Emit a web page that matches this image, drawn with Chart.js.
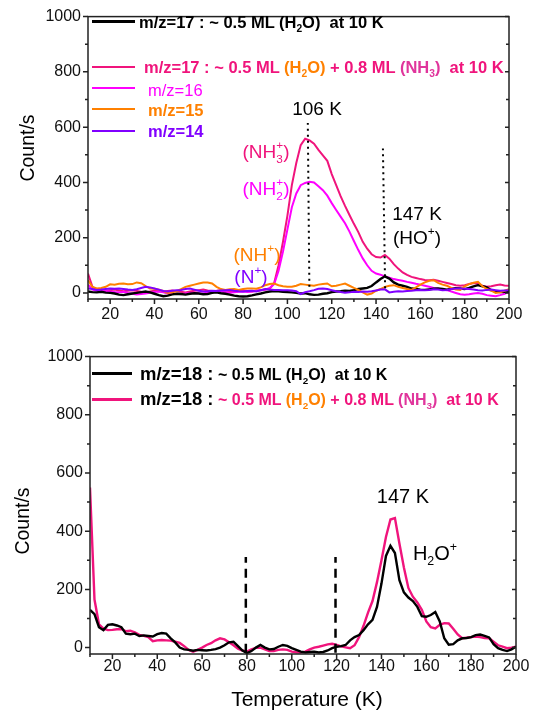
<!DOCTYPE html>
<html>
<head>
<meta charset="utf-8">
<script src="https://cdn.jsdelivr.net/npm/chart.js@4.4.0/dist/chart.umd.min.js"></script>
<style>
body { margin: 0; background: #fff; width: 537px; height: 713px; position: relative; overflow: hidden;
       font-family: "Liberation Sans", Arial, sans-serif; }
canvas { position: absolute; left: 0; }
.t { position: absolute; white-space: nowrap; line-height: 1; transform: translateY(-50%); }
.c { position: absolute; white-space: nowrap; line-height: 1; transform: translate(-50%, -50%); }
.b { font-weight: bold; }
.ln { position: absolute; }
.sb { font-size: 62%; position: relative; top: 0.4em; line-height: 0; }
.sp { font-size: 62%; position: relative; top: -0.75em; line-height: 0; }
.stk { margin-left: -0.56em; }
</style>
</head>
<body>
<canvas id="topChart" width="537" height="340" style="top:0;width:537px;height:340px"></canvas>
<canvas id="bottomChart" width="537" height="373" style="top:340px;width:537px;height:373px"></canvas>

<!-- top panel legend -->
<div class="ln" style="left:92px;top:20px;width:43px;height:3px;background:#000"></div>
<div class="t b" style="left:139px;top:22px;font-size:16.5px;color:#000">m/z=17 : ~ 0.5 ML (H<span class="sb">2</span>O)&nbsp; at 10 K</div>
<div class="ln" style="left:92px;top:66px;width:43px;height:2px;background:#f0147c"></div>
<div class="t b" style="left:144px;top:67px;font-size:16.5px;color:#f0147c">m/z=17 : ~ 0.5 ML <span style="color:#ff8000">(H<span class="sb">2</span>O)</span> + 0.8 ML <span style="color:#e0359c">(NH<span class="sb">3</span>)</span>&nbsp; at 10 K</div>
<div class="ln" style="left:92px;top:87px;width:43px;height:2px;background:#ff00ff"></div>
<div class="t" style="left:148px;top:90px;font-size:16.5px;color:#ff00ff">m/z=16</div>
<div class="ln" style="left:92px;top:108px;width:43px;height:2px;background:#ff8000"></div>
<div class="t b" style="left:148px;top:110px;font-size:16.5px;color:#ff8000">m/z=15</div>
<div class="ln" style="left:92px;top:130px;width:43px;height:2px;background:#8000ff"></div>
<div class="t b" style="left:148px;top:131px;font-size:16.5px;color:#8000ff">m/z=14</div>

<!-- top panel annotations -->
<div class="c" style="left:317px;top:108px;font-size:19px;color:#000">106 K</div>
<div class="c" style="left:417px;top:213px;font-size:19px;color:#000">147 K</div>
<div class="c" style="left:417px;top:237px;font-size:19px;color:#000">(HO<span class="sp">+</span>)</div>
<div class="c" style="left:266px;top:151px;font-size:19px;color:#f0147c">(NH<span class="sb">3</span><span class="sp stk">+</span>)</div>
<div class="c" style="left:266px;top:188px;font-size:19px;color:#ff00ff">(NH<span class="sb">2</span><span class="sp stk">+</span>)</div>
<div class="c" style="left:257px;top:254px;font-size:19px;color:#ff8000">(NH<span class="sp">+</span>)</div>
<div class="c" style="left:251px;top:276px;font-size:19px;color:#8000ff">(N<span class="sp">+</span>)</div>

<!-- bottom panel legend -->
<div class="ln" style="left:92px;top:372px;width:40px;height:2.5px;background:#000"></div>
<div class="t b" style="left:140px;top:374px;font-size:18.5px;color:#000">m/z=18 :</div>
<div class="t b" style="left:218px;top:375px;font-size:16px;color:#000">~ 0.5 ML (H<span class="sb">2</span>O)&nbsp; at 10 K</div>
<div class="ln" style="left:92px;top:398px;width:40px;height:2.5px;background:#f0147c"></div>
<div class="t b" style="left:140px;top:399px;font-size:18.5px;color:#000">m/z=18 :</div>
<div class="t b" style="left:218px;top:400px;font-size:16px;color:#f0147c">~ 0.5 ML <span style="color:#ff8000">(H<span class="sb">2</span>O)</span> + 0.8 ML <span style="color:#e0359c">(NH<span class="sb">3</span>)</span>&nbsp; at 10 K</div>

<!-- bottom panel annotations -->
<div class="c" style="left:403px;top:496px;font-size:20px;color:#000">147 K</div>
<div class="c" style="left:435px;top:553px;font-size:20px;color:#000">H<span class="sb">2</span>O<span class="sp">+</span></div>

<!-- axis titles -->
<div class="c" style="left:28px;top:148px;font-size:19.5px;transform:translate(-50%,-50%) rotate(-90deg)">Count/s</div>
<div class="c" style="left:23px;top:521px;font-size:19.5px;transform:translate(-50%,-50%) rotate(-90deg)">Count/s</div>
<div class="c" style="left:307px;top:698px;font-size:21px">Temperature (K)</div>

<script>
// temperature grid (K)
const temps = [
  10, 12, 14, 16, 18, 20, 22, 24, 26, 28,
  30, 32, 34, 36, 38, 40, 42, 44, 46, 48,
  50, 52, 54, 56, 58, 60, 62, 64, 66, 68,
  70, 72, 74, 76, 78, 80, 82, 84, 86, 88,
  90, 92, 94, 96, 98, 100, 102, 104, 106, 108,
  110, 112, 114, 116, 118, 120, 122, 124, 126, 128,
  130, 132, 134, 136, 138, 140, 142, 144, 146, 148,
  150, 152, 154, 156, 158, 160, 162, 164, 166, 168,
  170, 172, 174, 176, 178, 180, 182, 184, 186, 188,
  190, 192, 194, 196, 198, 200
];

// top panel: m/z=17 pure water
const cnt17Water = [
  5, 3, 2, 4, 1, 0, -2, -6, -8, -5,
  -2, 0, 3, 5, 2, -3, -8, -12, -10, -5,
  -3, -4, -6, -3, -1, -2, -5, -4, 0, 2,
  -1, -3, -6, -10, -12, -13, -12, -9, -5, -2,
  2, 5, 7, 6, 4, 3, 2, 0, -2, -1,
  -5, -7, -6, -3, -1, 3, 5, 6, 8, 7,
  10, 14, 16, 18, 25, 38, 50, 60, 52, 38,
  30, 26, 22, 16, 14, 12, 11, 13, 15, 16,
  14, 12, 15, 17, 16, 14, 18, 24, 28, 24,
  20, 10, 5, 3, 4, 5
];
// top panel: m/z=17 water + ammonia
const cnt17Mix = [
  70, 22, 12, 10, 8, 10, 12, 9, 6, 8,
  10, 7, 4, 2, 5, 8, 6, 4, 7, 9,
  6, 4, 2, 5, 8, 10, 12, 9, 7, 8,
  10, 9, 6, 5, 7, 8, 6, 5, 8, 10,
  12, 15, 35, 100, 185, 280, 390, 470, 535, 558,
  552, 540, 518, 498, 478, 430, 390, 350, 315, 282,
  250, 220, 185, 160, 140, 130, 128, 137, 124, 104,
  88, 74, 65, 58, 54, 50, 47, 46, 48, 44,
  40, 36, 32, 28, 26, 28, 32, 36, 33, 26,
  22, 24, 28, 30, 27, 26
];
const cnt16 = [
  30, 12, 8, 6, 7, 5, 3, 2, 4, 0,
  -3, -6, -4, -2, 1, 3, 5, 2, -2, -4,
  -3, -5, -2, 0, 1, -1, -2, 2, 5, 6,
  4, 3, 1, 2, 4, 5, 3, 5, 8, 10,
  12, 18, 32, 80, 150, 230, 310, 360, 390, 398,
  402, 400, 386, 372, 352, 325, 300, 276, 252, 222,
  188, 155, 125, 100, 80, 70, 66, 60, 55, 50,
  47, 44, 40, 37, 33, 30, 26, 22, 18, 15,
  12, 10, 5, 0, -5, -7, -5, -2, 0, -3,
  -8, -10, -12, -8, -3, 5
];
const cnt15 = [
  46, 22, 16, 18, 22, 31, 30, 33, 34, 31,
  32, 38, 35, 25, 16, 15, 12, 7, 0, 2,
  6, 14, 22, 26, 30, 34, 38, 38, 34, 22,
  14, 11, 13, 14, 11, 14, 16, 16, 15, 20,
  28, 32, 34, 28, 24, 22, 22, 26, 32, 30,
  28, 26, 30, 32, 34, 24, 26, 30, 34, 26,
  18, 11, 2, -6, -2, 8, 14, 22, 26, 28,
  22, 18, 14, 11, 20, 30, 38, 44, 46, 36,
  30, 26, 18, 12, 11, 24, 32, 37, 40, 24,
  14, 8, 0, 2, 8, 13
];
const cnt14 = [
  16, 14, 11, 12, 14, 16, 15, 16, 14, 12,
  11, 13, 18, 22, 20, 16, 12, 7, 5, 8,
  10, 11, 14, 16, 12, 8, 5, 6, 8, 7,
  9, 10, 11, 8, 6, 5, 7, 8, 5, 10,
  14, 12, 11, 11, 10, 10, 9, 6, -4, 3,
  6, 10, 15, 16, 14, 10, 6, 3, 1, 2,
  4, 3, 5, 4, 6, 9, 12, 13, 2, 4,
  6, 5, 7, 8, 10, 11, 10, 11, 13, 12,
  10, 11, 14, 16, 16, 15, 14, 12, 10, 9,
  11, 12, 10, 8, 9, 10
];

// bottom panel: m/z=18
const cnt18Water = [
  130, 115, 70, 60, 78, 80, 76, 70, 48, 46,
  48, 40, 42, 40, 38, 46, 50, 48, 32, 18,
  0, -6, -8, -11, -8, -9, -10, -8, -5, 0,
  8, 18, 20, 5, -10, -19, -12, 0, 9, 0,
  -6, -5, 3, 9, 6, -2, -8, -14, -17, -15,
  -14, -17, -15, -10, -2, 3, 5, 9, 25, 36,
  43, 60, 80, 95, 140, 220, 315, 350, 325, 232,
  190, 172, 160, 140, 108, 106, 112, 122, 90, 32,
  10, 12, 25, 32, 33, 36, 43, 45, 40, 35,
  12, -2, -8, -12, -6, 3
];
const cnt18Mix = [
  550, 165, 80, 65, 60, 61, 63, 64, 56, 58,
  52, 44, 40, 36, 22, 25, 26, 25, 24, 20,
  16, 5, -8, -14, -8, 0, 9, 15, 25, 32,
  28, 18, 8, -4, -10, -14, -6, -1, 0, -6,
  -12, -12, -8, -6, -8, -14, -16, -17, -14, -6,
  0, 3, 7, 11, 13, 9, 4, 1, -2, 8,
  36, 75, 120, 160, 225, 300, 380, 440, 445, 358,
  275, 205, 175, 155, 130, 90, 70, 66, 78, 84,
  83, 65, 45, 32, 34, 36, 38, 36, 33, 32,
  20, 8, 3, -2, 0, 3
];

// guide lines (K, count/s)
const guide106 = [{x: 109.9, y: 22}, {x: 109.2, y: 615}];
const guide147 = [{x: 144.1, y: 17}, {x: 143.1, y: 523}];
const guide80 = [{x: 79.5, y: -18}, {x: 79.5, y: 311}];
const guide120 = [{x: 119.5, y: -18}, {x: 119.5, y: 311}];

const xTicks = [20, 40, 60, 80, 100, 120, 140, 160, 180, 200];
const xMinor = [10, 30, 50, 70, 90, 110, 130, 150, 170, 190];
const yTicks = [0, 200, 400, 600, 800, 1000];
const yMinor = [100, 300, 500, 700, 900];

const pts = arr => temps.map((t, i) => ({x: t, y: arr[i]}));

// box frame + tick marks, placed with the chart's own scales
const framePlugin = {
    id: 'frame',
    afterDraw(chart) {
        const {ctx, chartArea: a, scales: {x, y}} = chart;
        ctx.save();
        ctx.strokeStyle = '#222';
        ctx.lineWidth = 1.5;
        ctx.strokeRect(a.left, a.top, a.right - a.left, a.bottom - a.top);
        ctx.beginPath();
        yTicks.forEach(v => {
            const p = y.getPixelForValue(v);
            ctx.moveTo(a.left - 5, p); ctx.lineTo(a.left, p);
            ctx.moveTo(a.right, p); ctx.lineTo(a.right - 4, p);
        });
        yMinor.forEach(v => {
            const p = y.getPixelForValue(v);
            ctx.moveTo(a.left - 3, p); ctx.lineTo(a.left, p);
            ctx.moveTo(a.right, p); ctx.lineTo(a.right - 3, p);
        });
        xTicks.forEach(v => {
            const p = x.getPixelForValue(v);
            ctx.moveTo(p, a.bottom); ctx.lineTo(p, a.bottom + 5);
        });
        xMinor.forEach(v => {
            const p = x.getPixelForValue(v);
            ctx.moveTo(p, a.bottom); ctx.lineTo(p, a.bottom + 3);
        });
        ctx.stroke();
        ctx.restore();
    }
};

function makeChart(id, datasets, yWidth, xHeight, pad, xPad) {
    return new Chart(document.getElementById(id), {
        type: 'line',
        data: {datasets},
        options: {
            responsive: false,
            animation: false,
            events: [],
            layout: {padding: pad},
            elements: {point: {radius: 0}, line: {tension: 0, borderWidth: 2}},
            plugins: {legend: {display: false}, tooltip: {enabled: false}},
            scales: {
                x: {
                    type: 'linear', min: 10, max: 200,
                    grid: {display: false, drawTicks: false},
                    border: {display: false},
                    ticks: {font: {family: 'Liberation Sans', size: 16}, color: '#111', padding: xPad,
                            maxRotation: 0, callback: v => String(v)},
                    afterBuildTicks: s => { s.ticks = xTicks.map(v => ({value: v})); },
                    afterFit: s => { s.height = xHeight; }
                },
                y: {
                    min: -22, max: 1000,
                    grid: {display: false, drawTicks: false},
                    border: {display: false},
                    ticks: {font: {family: 'Liberation Sans', size: 16}, color: '#111', padding: 7,
                            callback: v => String(v)},
                    afterBuildTicks: s => { s.ticks = yTicks.map(v => ({value: v})); },
                    afterFit: s => { s.width = yWidth; }
                }
            }
        },
        plugins: [framePlugin]
    });
}

document.addEventListener('DOMContentLoaded', () => {
    makeChart('topChart', [
        {data: guide106, borderColor: '#000', borderWidth: 2, borderDash: [2, 4]},
        {data: guide147, borderColor: '#000', borderWidth: 2, borderDash: [2, 4]},
        {data: pts(cnt14), borderColor: '#8000ff'},
        {data: pts(cnt15), borderColor: '#ff8000'},
        {data: pts(cnt17Water), borderColor: '#000', borderWidth: 2.4},
        {data: pts(cnt16), borderColor: '#ff00ff'},
        {data: pts(cnt17Mix), borderColor: '#f0147c'}
    ], 88, 41, {left: 0, right: 28, top: 10, bottom: 0}, 6);

    makeChart('bottomChart', [
        {data: guide80, borderColor: '#000', borderWidth: 2.5, borderDash: [9, 6]},
        {data: guide120, borderColor: '#000', borderWidth: 2.5, borderDash: [9, 6]},
        {data: pts(cnt18Water), borderColor: '#000', borderWidth: 2.4},
        {data: pts(cnt18Mix), borderColor: '#f0147c', borderWidth: 2.4}
    ], 90, 59, {left: 0, right: 21, top: 16, bottom: 0}, 3);
});
</script>
</body>
</html>
